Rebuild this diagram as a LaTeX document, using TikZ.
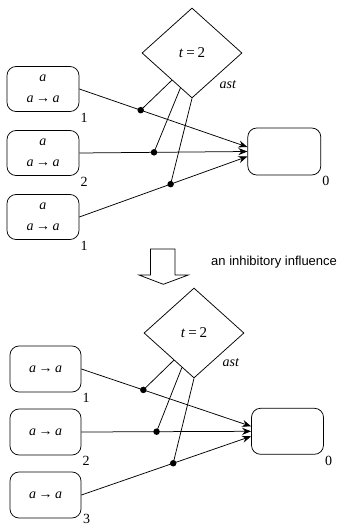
\documentclass[tikz,border=0pt]{standalone}
\usepackage{fontspec}
\setmainfont{Liberation Serif}
\newfontfamily\labsans{Liberation Sans}
\usetikzlibrary{shapes.geometric,arrows.meta,calc}
\begin{document}
\begin{tikzpicture}[x=1pt,y=1pt,
  every node/.style={font=\fontsize{14}{21}\selectfont},
  rbox/.style={draw, rounded corners=9pt, minimum width=72pt, minimum height=45pt, inner sep=0pt, align=center, line width=0.75pt},
  dia/.style={draw, diamond, minimum width=100pt, minimum height=90pt, inner sep=0pt, line width=0.75pt, font=\fontsize{15}{18}\selectfont},
  flow/.style={line width=0.75pt, -{Stealth[length=9pt,width=7pt]}},
  inh/.style={line width=0.75pt},
  dot/.style={circle, fill, inner sep=0pt, minimum size=6.5pt},
  lab/.style={anchor=north west, inner sep=1pt},
  note/.style={font=\labsans\fontsize{13}{15}\selectfont, anchor=west, inner sep=0pt},
]
\useasboundingbox (0,0) rectangle (350,-526);

% ---------- top part ----------
\node[dia] (d1) at (192,-53) {\textit{t}\kern3pt=\kern3pt2};
\node (ast1) at (228,-85) {\textit{ast}};
\node[rbox] (a1) at (43,-89) {\textit{a}\\\textit{a}\kern2.5pt→\kern2.5pt\textit{a}};
\node[rbox] (a2) at (43,-153) {\textit{a}\\\textit{a}\kern2.5pt→\kern2.5pt\textit{a}};
\node[rbox] (a3) at (43,-217) {\textit{a}\\\textit{a}\kern2.5pt→\kern2.5pt\textit{a}};
\node[lab] (l1) at (a1.south east) {1};
\node[lab] (l2) at (a2.south east) {2};
\node[lab] (l3) at (a3.south east) {1};
\node[rbox, minimum width=73pt, minimum height=47pt] (r1) at (284.3,-151.5) {};
\node[lab] (l0) at (r1.south east) {0};

\coordinate (t1) at ($(r1.west)+(0,4.5)$);
\coordinate (t2) at (r1.west);
\coordinate (t3) at ($(r1.west)+(0,-5)$);
\draw[flow] (a1.east) -- (t1) coordinate[pos=0.365] (p1);
\draw[flow] (a2.east) -- (t2) coordinate[pos=0.444] (p2);
\draw[flow] (a3.east) -- (t3) coordinate[pos=0.543] (p3);
\node[dot] (q1) at (p1) {};
\node[dot] (q2) at (p2) {};
\node[dot] (q3) at (p3) {};
\coordinate (s1) at ($(d1.west)!0.6!(d1.south)$);
\coordinate (s2) at ($(d1.west)!0.77!(d1.south)$);
\draw[inh] (s1) -- (q1.center);
\draw[inh] (s2) -- (q2.center);
\draw[inh] (d1.south) -- (q3.center);

% ---------- transition arrow ----------
\draw[line width=0.75pt] (150.5,-249) -- (175,-249) -- (175,-275) -- (188.3,-275)
  -- (163.3,-284.3) -- (139,-275) -- (150.5,-275) -- cycle;
\node[note] (txt) at (211,-262) {an inhibitory influence};

% ---------- bottom part ----------
\node[dia] (d2) at (194,-333) {\textit{t}\kern3pt=\kern3pt2};
\node (ast2) at (231,-363) {\textit{ast}};
\node[rbox, minimum width=71pt, minimum height=46pt] (b1) at (45.5,-369) {\textit{a}\kern2.5pt→\kern2.5pt\textit{a}};
\node[rbox, minimum width=71pt, minimum height=46pt] (b2) at (45.5,-432) {\textit{a}\kern2.5pt→\kern2.5pt\textit{a}};
\node[rbox, minimum width=71pt, minimum height=46pt] (b3) at (45.5,-495) {\textit{a}\kern2.5pt→\kern2.5pt\textit{a}};
\node[lab] (m1) at (b1.south east) {1};
\node[lab] (m2) at (b2.south east) {2};
\node[anchor=base west, inner sep=0pt] (m3) at ($(b3.south east)+(1.5,-5)$) {3};
\node[rbox, minimum width=72pt, minimum height=46pt] (r2) at (287.5,-431.3) {};
\node[lab] (m0) at (r2.south east) {0};

\coordinate (u1) at ($(r2.west)+(0,5)$);
\coordinate (u2) at (r2.west);
\coordinate (u3) at ($(r2.west)+(0,-5)$);
\draw[flow] (b1.east) -- (u1) coordinate[pos=0.365] (v1);
\draw[flow] (b2.east) -- (u2) coordinate[pos=0.443] (v2);
\draw[flow] (b3.east) -- (u3) coordinate[pos=0.541] (v3);
\node[dot] (w1) at (v1) {};
\node[dot] (w2) at (v2) {};
\node[dot] (w3) at (v3) {};
\coordinate (z1) at ($(d2.west)!0.6!(d2.south)$);
\coordinate (z2) at ($(d2.west)!0.76!(d2.south)$);
\draw[inh] (z1) -- (w1.center);
\draw[inh] (z2) -- (w2.center);
\draw[inh] (d2.south) -- (w3.center);
\end{tikzpicture}
\end{document}
